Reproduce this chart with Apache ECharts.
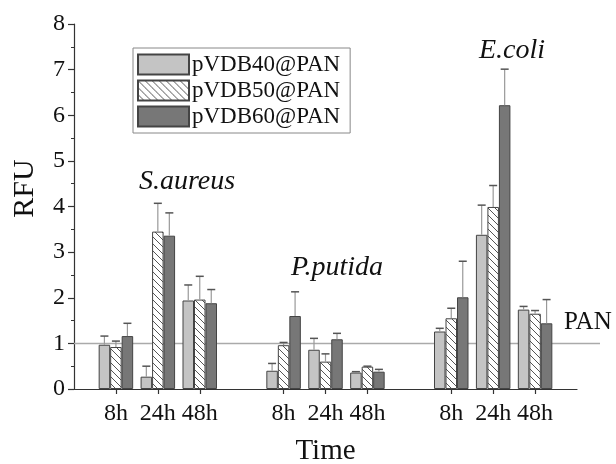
<!DOCTYPE html>
<html>
<head>
<meta charset="utf-8">
<script src="https://cdn.jsdelivr.net/npm/echarts@6/dist/echarts.min.js"></script>
<style>
html,body{margin:0;padding:0;background:#fff;}
#chart{width:616px;height:464px;}
</style>
</head>
<body>
<div id="chart"></div>
<script>
// ---- data ----
const categories = ['', '8h', '24h', '48h', '', '8h', '24h', '48h', '', '8h', '24h', '48h', ''];
const seriesNames = ['pVDB40@PAN', 'pVDB50@PAN', 'pVDB60@PAN'];
const pvdb40 = [null, 0.97, 0.27, 1.94, null, 0.40, 0.86, 0.36, null, 1.26, 3.38, 1.74, null];
const pvdb40Err = [null, 0.19, 0.23, 0.34, null, 0.16, 0.25, 0.02, null, 0.07, 0.65, 0.07, null];
const pvdb50 = [null, 0.92, 3.45, 1.96, null, 0.96, 0.60, 0.49, null, 1.55, 3.99, 1.65, null];
const pvdb50Err = [null, 0.13, 0.62, 0.51, null, 0.06, 0.17, 0.01, null, 0.22, 0.47, 0.07, null];
const pvdb60 = [null, 1.16, 3.36, 1.88, null, 1.60, 1.09, 0.38, null, 2.01, 6.22, 1.44, null];
const pvdb60Err = [null, 0.28, 0.50, 0.30, null, 0.53, 0.13, 0.05, null, 0.79, 0.79, 0.52, null];
const panLevel = 1;
const yTicks = [0, 1, 2, 3, 4, 5, 6, 7, 8];
const annotations = [
  {text: 'S.aureus', x: 187, y: 182},
  {text: 'P.putida', x: 337, y: 268},
  {text: 'E.coli', x: 512, y: 51}
];

// ---- styles ----
const FONT = "'Liberation Serif', 'DejaVu Serif', serif";
const BAR_W = 11.5;

function hatch() {
  const s = 7;
  const c = document.createElement('canvas');
  c.width = s; c.height = s;
  const g = c.getContext('2d');
  g.fillStyle = '#ffffff';
  g.fillRect(0, 0, s, s);
  g.strokeStyle = '#555';
  g.lineWidth = 1;
  for (let x = -s; x <= s; x += s) {
    g.beginPath();
    g.moveTo(x, 0);
    g.lineTo(x + s, s);
    g.stroke();
  }
  return c;
}

const fills = ['#c4c4c4', {image: hatch(), repeat: 'repeat'}, '#777777'];
const values = [pvdb40, pvdb50, pvdb60];
const errs = [pvdb40Err, pvdb50Err, pvdb60Err];

const chart = echarts.init(document.getElementById('chart'), null, {renderer: 'canvas'});

const series = [];
values.forEach((vals, i) => {
  series.push({
    name: seriesNames[i],
    type: 'bar',
    data: vals,
    barWidth: BAR_W,
    barGap: '0%',
    itemStyle: {color: fills[i], borderColor: '#444', borderWidth: 1},
    emphasis: {disabled: true},
    z: 2
  });
});
values.forEach((vals, i) => {
  const d = [];
  vals.forEach((v, k) => { if (v != null) d.push([k, v, v + errs[i][k]]); });
  series.push({
    type: 'custom',
    data: d,
    z: 3,
    silent: true,
    renderItem: function (params, api) {
      const top = api.coord([api.value(0), api.value(2)]);
      const base = api.coord([api.value(0), api.value(1)]);
      const x = top[0] + (i - 1) * BAR_W;
      return {
        type: 'group',
        children: [
          {type: 'line', shape: {x1: x, y1: base[1], x2: x, y2: top[1]}, style: {stroke: '#999', lineWidth: 1.2}},
          {type: 'line', shape: {x1: x - 4, y1: top[1], x2: x + 4, y2: top[1]}, style: {stroke: '#555', lineWidth: 1.5}}
        ]
      };
    }
  });
});

chart.setOption({
  animation: false,
  backgroundColor: '#ffffff',
  grid: {left: 74, right: 39, top: 24, bottom: 75, containLabel: false, outerBoundsMode: 'none'},
  legend: {
    data: seriesNames,
    orient: 'vertical',
    left: 133,
    top: 48,
    itemWidth: 51,
    itemHeight: 20,
    itemGap: 3,
    padding: [5, 10, 5, 4],
    borderColor: '#888',
    borderWidth: 1,
    backgroundColor: '#fff',
    icon: 'rect',
    selectedMode: false,
    textStyle: {fontFamily: FONT, fontSize: 23, color: '#111', padding: [0, 0, 0, -2]}
  },
  xAxis: {
    type: 'category',
    data: categories,
    boundaryGap: false,
    name: 'Time',
    nameLocation: 'middle',
    nameGap: 48,
    nameTextStyle: {fontFamily: FONT, fontSize: 29, color: '#111'},
    axisLine: {lineStyle: {color: '#333', width: 1.2}},
    axisTick: {
      length: 5,
      lineStyle: {color: '#333', width: 1.2},
      interval: function (index, value) { return value !== ''; }
    },
    axisLabel: {interval: 0, margin: 13, fontFamily: FONT, fontSize: 24, color: '#111'},
    splitLine: {show: false}
  },
  yAxis: {
    type: 'value',
    min: yTicks[0],
    max: yTicks[yTicks.length - 1],
    interval: 1,
    name: 'RFU',
    nameLocation: 'middle',
    nameGap: 34,
    nameRotate: 90,
    nameTextStyle: {fontFamily: FONT, fontSize: 30, color: '#111', padding: [0, 0, 0, 36]},
    axisLine: {show: true, lineStyle: {color: '#333', width: 1.2}},
    axisTick: {show: true, length: 6, lineStyle: {color: '#333', width: 1.2}},
    minorTick: {show: true, splitNumber: 2, length: 3, lineStyle: {color: '#333', width: 1}},
    axisLabel: {margin: 9, fontFamily: FONT, fontSize: 24, color: '#111'},
    splitLine: {show: false}
  },
  series: series
});

// PAN reference line and annotations (positioned via the chart's scales)
const yPan = chart.convertToPixel({yAxisIndex: 0}, panLevel);
const xStart = chart.convertToPixel({xAxisIndex: 0}, 0);
const graphics = [
  {type: 'line', silent: true, z: 1, shape: {x1: xStart, y1: yPan, x2: 600, y2: yPan}, style: {stroke: '#aaa', lineWidth: 1.5}},
  {type: 'text', silent: true, x: 564, y: 322, style: {text: 'PAN', fontFamily: FONT, fontSize: 25, fill: '#111', verticalAlign: 'middle', align: 'left'}}
];
annotations.forEach(a => {
  graphics.push({type: 'text', silent: true, x: a.x, y: a.y, style: {text: a.text, fontFamily: FONT, fontSize: 28, fontStyle: 'italic', fill: '#111', align: 'center', verticalAlign: 'middle'}});
});
chart.setOption({graphic: graphics});
</script>
</body>
</html>
